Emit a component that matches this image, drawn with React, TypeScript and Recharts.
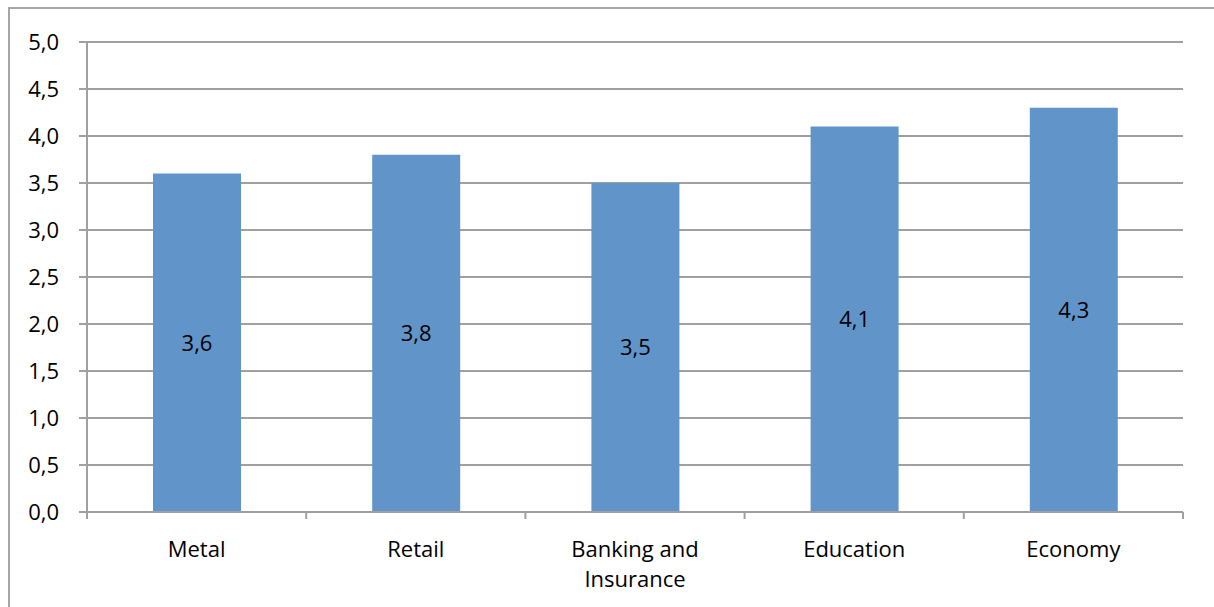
import React from "react";
import { BarChart, Bar, XAxis, YAxis, CartesianGrid, LabelList, Text } from "recharts";

const categories = ["Metal", "Retail", "Banking and Insurance", "Education", "Economy"];
const values = [3.6, 3.8, 3.5, 4.1, 4.3];
const yTicks = [0, 0.5, 1, 1.5, 2, 2.5, 3, 3.5, 4, 4.5, 5];

const data = categories.map((c, i) => ({ name: c, value: values[i] }));

const FONT = "'Open Sans', sans-serif";
const AXIS = "#a0a0a0";

const fmt = (v: any) => Number(v).toFixed(1).replace(".", ",");

const XTick = (props: any) => {
  const { x, y, payload, index, visibleTicksCount } = props;
  const half = payload && typeof payload.offset === "number" && payload.offset > 0 ? payload.offset : 109.6;
  const last = index === (visibleTicksCount ?? categories.length) - 1;
  return (
    <g>
      <line x1={x - half} x2={x - half} y1={y} y2={y + 7} stroke={AXIS} strokeWidth={2} />
      {last && <line x1={x + half} x2={x + half} y1={y} y2={y + 7} stroke={AXIS} strokeWidth={2} />}
      <Text
        x={x}
        y={y + 29}
        width={150}
        textAnchor="middle"
        verticalAnchor="start"
        lineHeight={30}
        fontSize={22}
        fontFamily={FONT}
        style={{ fontSize: 22, fontFamily: FONT }}
        fill="#000"
      >
        {payload.value}
      </Text>
    </g>
  );
};

export default function App() {
  return (
    <div style={{ position: "absolute", left: 0, top: 0, width: 1214, height: 607, overflow: "hidden", background: "#fff" }}>
      <div
        style={{
          position: "absolute",
          left: 8,
          top: 7,
          width: 1300,
          height: 700,
          borderLeft: "2px solid #a6a6a6",
          borderTop: "2px solid #a6a6a6",
        }}
      />
      <div style={{ position: "absolute", left: 0, top: 0 }}>
        <BarChart
          width={1214}
          height={607}
          data={data}
          margin={{ top: 42, right: 31, left: 0, bottom: 0 }}
          barCategoryGap={0}
          style={{ fontFamily: FONT }}
        >
          <CartesianGrid vertical={false} stroke={AXIS} strokeWidth={2} />
          <XAxis
            dataKey="name"
            height={95}
            interval={0}
            tickLine={false}
            tickSize={0}
            tickMargin={0}
            axisLine={{ stroke: AXIS, strokeWidth: 2 }}
            tick={<XTick />}
          />
          <YAxis
            width={87}
            domain={[0, 5]}
            ticks={yTicks}
            interval={0}
            tickFormatter={fmt}
            tickSize={8}
            tickMargin={20}
            axisLine={{ stroke: AXIS, strokeWidth: 2 }}
            tickLine={{ stroke: AXIS, strokeWidth: 2 }}
            tick={{ fill: "#000", fontSize: 22, fontFamily: FONT }}
          />
          <Bar dataKey="value" fill="#6195c9" barSize={88} isAnimationActive={false}>
            <LabelList
              dataKey="value"
              position="center"
              formatter={fmt}
              fill="#000"
              fontSize={22}
              fontFamily={FONT}
            />
          </Bar>
        </BarChart>
      </div>
    </div>
  );
}
